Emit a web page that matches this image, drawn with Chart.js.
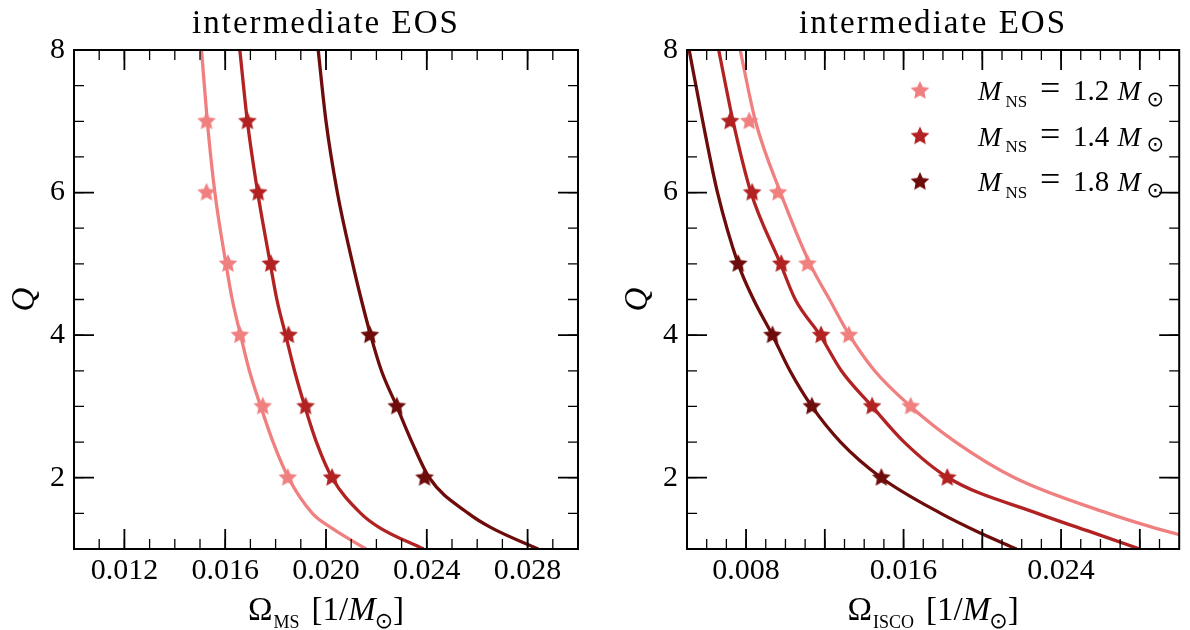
<!DOCTYPE html>
<html>
<head>
<meta charset="utf-8">
<title>intermediate EOS</title>
<script src="https://cdn.jsdelivr.net/npm/chart.js@4.4.1/dist/chart.umd.min.js"></script>
<style>
    body { margin: 0; background: #fff; }
    #wrap { position: relative; width: 1190px; height: 630px; overflow: hidden; }
    #wrap canvas { position: absolute; top: 0; }
</style>
</head>
<body>
<div id="wrap">
    <canvas id="msChart" width="595" height="630" style="left:0"></canvas>
    <canvas id="iscoChart" width="595" height="630" style="left:595px"></canvas>
</div>
<script>
/* ============================================================
   Q vs Omega_MS / Omega_ISCO - intermediate EOS
   ============================================================ */

// ── Data ──────────────────────────────────────────────────────
const massLabels = ["1.2", "1.4", "1.8"];
const massColors = ["#f08080", "#b22222", "#6e0b0b"];

// fitted curves, left panel (Omega_MS)
const msCurveQ  = [8, 7, 6, 5, 4.5, 4, 3.5, 3, 2.5, 2, 1.5, 1.3, 1];
const msCurve12 = [0.01506, 0.01529, 0.01559, 0.01603, 0.01628, 0.01661, 0.01696, 0.01741, 0.01790, 0.01851, 0.01946, 0.02020, 0.02159];
const msCurve14 = [0.01658, 0.01688, 0.01729, 0.01779, 0.01805, 0.01840, 0.01875, 0.01916, 0.01962, 0.02024, 0.02138, 0.02212, 0.02387];
const msCurve18 = [0.01969, 0.02000, 0.02045, 0.02106, 0.02140, 0.02177, 0.02220, 0.02281, 0.02341, 0.02410, 0.02565, 0.02655, 0.02842];

// simulation points, left panel
const msStarQ12 = [7, 6, 5, 4, 3, 2];
const msStar12  = [0.01526, 0.01526, 0.01611, 0.01658, 0.01749, 0.01848];
const msStarQ14 = [7, 6, 5, 4, 3, 2];
const msStar14  = [0.01688, 0.01731, 0.01781, 0.01851, 0.01919, 0.02024];
const msStarQ18 = [4, 3, 2];
const msStar18  = [0.02174, 0.02281, 0.02391];

// fitted curves, right panel (Omega_ISCO)
const iscoCurveQ   = [8, 7, 6, 5, 4.5, 4, 3.5, 3, 2.5, 2, 1.5, 1.25, 1];
const iscoCurveQ12 = [8, 7, 6, 5, 4.5, 4, 3.5, 3, 2.5, 2, 1.5, 1.3, 1.2];
const iscoCurve12  = [0.00770, 0.00848, 0.00975, 0.01125, 0.01224, 0.01325, 0.01453, 0.01636, 0.01865, 0.02164, 0.02640, 0.02870, 0.03000];
const iscoCurve14  = [0.00661, 0.00734, 0.00825, 0.00975, 0.01050, 0.01176, 0.01284, 0.01440, 0.01603, 0.01827, 0.02280, 0.02540, 0.02800];
const iscoCurve18  = [0.00511, 0.00580, 0.00655, 0.00760, 0.00838, 0.00934, 0.01023, 0.01134, 0.01280, 0.01487, 0.01789, 0.01970, 0.02174];

// simulation points, right panel
const iscoStarQ12 = [7, 6, 5, 4, 3];
const iscoStar12  = [0.00816, 0.00962, 0.01112, 0.01322, 0.01636];
const iscoStarQ14 = [7, 6, 5, 4, 3, 2];
const iscoStar14  = [0.00719, 0.00831, 0.00979, 0.01181, 0.01440, 0.01822];
const iscoStarQ18 = [5, 4, 3, 2];
const iscoStar18  = [0.00760, 0.00934, 0.01134, 0.01487];

// axes
const qRange    = [1, 8];
const qTicks    = [2, 4, 6, 8];
const msRange   = [0.010, 0.030];
const msTicks   = [0.012, 0.016, 0.020, 0.024, 0.028];
const iscoRange = [0.005, 0.030];
const iscoTicks = [0.008, 0.016, 0.024];
const iscoMajor = [0.008, 0.012, 0.016, 0.020, 0.024, 0.028];

// ── Style ─────────────────────────────────────────────────────
const SERIF = "'Liberation Serif', 'Times New Roman', serif";
const SYM   = "'DejaVu Sans', sans-serif";
const STAR_R = 9.8;

Chart.defaults.font.family = SERIF;
Chart.defaults.color = "#000";

// ── Helpers ───────────────────────────────────────────────────
const pts = (xs, ys) => xs.map((x, i) => ({ x, y: ys[i] }));

function starImage(color, r) {
    const c = document.createElement("canvas");
    const s = Math.ceil(r * 2 + 2);
    c.width = s;
    c.height = s;
    const g = c.getContext("2d");
    g.translate(s / 2, s / 2);
    g.beginPath();
    for (let i = 0; i < 10; i++) {
        const rad = i % 2 ? r * 0.48 : r;
        const ang = -Math.PI / 2 + i * Math.PI / 5;
        g.lineTo(rad * Math.cos(ang), rad * Math.sin(ang));
    }
    g.closePath();
    g.fillStyle = color;
    g.fill();
    return c;
}
const stars = massColors.map(c => starImage(c, STAR_R));

// draw a run of text pieces (subscripts via dy)
function drawParts(ctx, parts, x, y, align) {
    let total = 0;
    parts.forEach(p => {
        ctx.font = p.font;
        p.w = ctx.measureText(p.t).width;
        total += p.w + (p.gap || 0);
    });
    let cx = align === "center" ? x - total / 2 : x;
    parts.forEach(p => {
        ctx.font = p.font;
        const px = p.at !== undefined ? x + p.at : cx;
        ctx.fillText(p.t, px, y + (p.dy || 0));
        cx = px + p.w + (p.gap || 0);
    });
}

function xTitleParts(sub) {
    return [
        { t: "\u03A9", font: `33px ${SERIF}`, gap: 1 },
        { t: sub, font: `18px ${SERIF}`, dy: 8, gap: 12 },
        { t: "[1/", font: `33px ${SERIF}` },
        { t: "M", font: `italic 33px ${SERIF}`, gap: -1 },
        { t: "\u2299", font: `22px ${SYM}`, dy: 7.5, gap: 0 },
        { t: "]", font: `33px ${SERIF}` }
    ];
}

// ── Frame plugin: spines, inward ticks, titles, legend ────────
const framePlugin = {
    id: "frame",
    afterDatasetsDraw(chart, args, opts) {
        const { ctx, chartArea: a, scales: { x, y } } = chart;
        ctx.save();
        ctx.strokeStyle = "#000";

        const xTick = (v, len, lw) => {
            const p = x.getPixelForValue(v);
            ctx.lineWidth = lw;
            ctx.beginPath();
            ctx.moveTo(p, a.bottom); ctx.lineTo(p, a.bottom - len);
            ctx.moveTo(p, a.top);    ctx.lineTo(p, a.top + len);
            ctx.stroke();
        };
        const yTick = (v, len, lw) => {
            const p = y.getPixelForValue(v);
            ctx.lineWidth = lw;
            ctx.beginPath();
            ctx.moveTo(a.left, p);  ctx.lineTo(a.left + len, p);
            ctx.moveTo(a.right, p); ctx.lineTo(a.right - len, p);
            ctx.stroke();
        };

        const nx = Math.round((x.max - x.min) / opts.xMinor);
        for (let k = 1; k < nx; k++) xTick(x.min + k * opts.xMinor, 10, 1.3);
        opts.xMajor.forEach(v => xTick(v, 20, 1.8));

        const ny = Math.round((y.max - y.min) / 0.5);
        for (let k = 1; k < ny; k++) yTick(y.min + k * 0.5, 10, 1.3);
        qTicks.forEach(v => yTick(v, 20, 1.8));

        ctx.lineWidth = 2;
        ctx.strokeRect(a.left, a.top, a.right - a.left, a.bottom - a.top);
        ctx.restore();
    },
    afterDraw(chart, args, opts) {
        const { ctx, chartArea: a } = chart;
        const cx = (a.left + a.right) / 2;
        ctx.save();
        ctx.fillStyle = "#000";
        ctx.textBaseline = "alphabetic";

        // title
        ctx.font = `33px ${SERIF}`;
        ctx.textAlign = "center";
        const tw = ctx.measureText(opts.title).width;
        if ("letterSpacing" in ctx) ctx.letterSpacing = Math.max(0, (268 - tw) / 16) + "px";
        ctx.fillText(opts.title, cx, 33);
        if ("letterSpacing" in ctx) ctx.letterSpacing = "0px";

        // x label
        ctx.textAlign = "left";
        drawParts(ctx, xTitleParts(opts.xSub), cx, 620, "center");

        // y label
        ctx.save();
        ctx.translate(a.left - 49, (a.top + a.bottom) / 2);
        ctx.rotate(-Math.PI / 2);
        ctx.textAlign = "center";
        ctx.textBaseline = "middle";
        ctx.font = `italic 33px ${SERIF}`;
        ctx.fillText("Q", 0, 0);
        ctx.restore();

        // legend
        if (opts.legend) {
            const L = opts.legend;
            massLabels.forEach((lbl, i) => {
                const ly = L.y0 + i * L.dy;
                const img = stars[i];
                ctx.drawImage(img, L.starX - img.width / 2, ly - img.height / 2);
                drawParts(ctx, [
                    { t: "M", font: `italic 28px ${SERIF}`, at: 0 },
                    { t: "NS", font: `17px ${SERIF}`, dy: 6.7, at: 27.5 },
                    { t: "=", font: `36px ${SERIF}`, at: 62 },
                    { t: lbl, font: `29px ${SERIF}`, at: 95 },
                    { t: "M", font: `italic 28px ${SERIF}`, at: 139.5 },
                    { t: "\u2299", font: `21px ${SYM}`, dy: 5.5, at: 168.5 }
                ], L.textX, ly + 9.3, "left");
            });
        }
        ctx.restore();
    }
};

// ── Chart factory ─────────────────────────────────────────────
function lineSet(data, color) {
    return {
        type: "line", data, order: 1,
        borderColor: color, borderWidth: 3.3,
        pointRadius: 0, fill: false,
        cubicInterpolationMode: "monotone"
    };
}
function starSet(data, idx) {
    return {
        type: "scatter", data, order: 0,
        pointStyle: stars[idx], pointRadius: STAR_R,
        backgroundColor: massColors[idx], borderColor: massColors[idx]
    };
}

function makeChart(id, cfg) {
    return new Chart(document.getElementById(id), {
        type: "scatter",
        data: { datasets: cfg.datasets },
        options: {
            responsive: false,
            animation: false,
            events: [],
            layout: { padding: { top: 50, right: cfg.padRight, left: 0, bottom: 0 } },
            plugins: {
                legend: { display: false },
                tooltip: { enabled: false },
                frame: cfg.frame
            },
            scales: {
                x: {
                    type: "linear", min: cfg.xRange[0], max: cfg.xRange[1],
                    afterFit: s => { s.height = 81; },
                    afterBuildTicks: s => { s.ticks = cfg.xTicks.map(v => ({ value: v })); },
                    grid: { display: false, drawTicks: false },
                    border: { display: false },
                    ticks: {
                        padding: 4, autoSkip: false, maxRotation: 0,
                        font: { size: 30 },
                        callback: v => Number(v).toFixed(3)
                    }
                },
                y: {
                    type: "linear", min: qRange[0], max: qRange[1],
                    afterFit: s => { s.width = cfg.yWidth; },
                    afterBuildTicks: s => { s.ticks = qTicks.map(v => ({ value: v })); },
                    grid: { display: false, drawTicks: false },
                    border: { display: false },
                    ticks: { padding: 9, font: { size: 30 }, callback: v => String(v) }
                }
            }
        },
        plugins: [framePlugin]
    });
}

// ── Build ─────────────────────────────────────────────────────
makeChart("msChart", {
    xRange: msRange, xTicks: msTicks, yWidth: 74, padRight: 17,
    frame: { title: "intermediate EOS", xSub: "MS", xMinor: 0.001, xMajor: msTicks },
    datasets: [
        starSet(pts(msStar12, msStarQ12), 0),
        starSet(pts(msStar14, msStarQ14), 1),
        starSet(pts(msStar18, msStarQ18), 2),
        lineSet(pts(msCurve12, msCurveQ), massColors[0]),
        lineSet(pts(msCurve14, msCurveQ), massColors[1]),
        lineSet(pts(msCurve18, msCurveQ), massColors[2])
    ]
});

makeChart("iscoChart", {
    xRange: iscoRange, xTicks: iscoTicks, yWidth: 92, padRight: 1,
    frame: {
        title: "intermediate EOS", xSub: "ISCO", xMinor: 0.001, xMajor: iscoMajor,
        legend: { starX: 325, textX: 383, y0: 90.7, dy: 45.5 }
    },
    datasets: [
        starSet(pts(iscoStar12, iscoStarQ12), 0),
        starSet(pts(iscoStar14, iscoStarQ14), 1),
        starSet(pts(iscoStar18, iscoStarQ18), 2),
        lineSet(pts(iscoCurve12, iscoCurveQ12), massColors[0]),
        lineSet(pts(iscoCurve14, iscoCurveQ), massColors[1]),
        lineSet(pts(iscoCurve18, iscoCurveQ), massColors[2])
    ]
});
</script>
</body>
</html>
